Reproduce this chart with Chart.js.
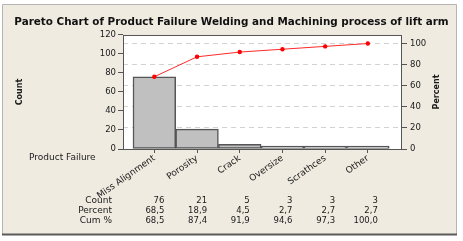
<!DOCTYPE html>
<html><head><meta charset="utf-8">
<script src="https://cdn.jsdelivr.net/npm/chart.js@4.4.1/dist/chart.umd.min.js"></script>
<style>html,body{margin:0;padding:0;background:#fff;}#wrap{width:463px;height:241px;position:relative;}</style>
</head><body><div id="wrap"><canvas id="c" width="463" height="241"></canvas></div>
<script>
const categories = ['Miss Alignment','Porosity','Crack','Oversize','Scrathces','Other'];
const counts = [76, 21, 5, 3, 3, 3];
const percents = [68.5, 18.9, 4.5, 2.7, 2.7, 2.7];
const cumPercents = [68.5, 87.4, 91.9, 94.6, 97.3, 100.0];
const countTicks = [0, 20, 40, 60, 80, 100, 120];
const percentTicks = [0, 20, 40, 60, 80, 100];
const titleText = 'Pareto Chart of Product Failure Welding and Machining process of lift arm';

const FONT = 'DejaVu Sans';
const countMax = 120;
const total = counts.reduce((a, b) => a + b, 0);
const percentMax = countMax * 100 / total;
const fmt = v => v.toFixed(1).replace('.', ',');

const decor = {
  id: 'decor',
  beforeDraw(chart) {
    const ctx = chart.ctx, a = chart.chartArea;
    ctx.save();
    ctx.fillStyle = '#ffffff';
    ctx.fillRect(0, 0, chart.width, chart.height);
    ctx.fillStyle = '#efebe1';
    ctx.fillRect(3, 5, 453, 229);
    ctx.strokeStyle = '#b4b4b4';
    ctx.lineWidth = 1;
    ctx.beginPath();
    ctx.moveTo(2.5, 234); ctx.lineTo(2.5, 4.5); ctx.lineTo(456.5, 4.5); ctx.lineTo(456.5, 234);
    ctx.stroke();
    ctx.strokeStyle = '#5a5a5a';
    ctx.lineWidth = 2;
    ctx.beginPath(); ctx.moveTo(2, 234.5); ctx.lineTo(457, 234.5); ctx.stroke();
    ctx.fillStyle = '#ffffff';
    ctx.fillRect(a.left, a.top, a.right - a.left, a.bottom - a.top);
    ctx.restore();
  },
  afterDraw(chart) {
    const ctx = chart.ctx, a = chart.chartArea, xs = chart.scales.x;
    ctx.save();
    ctx.strokeStyle = '#555555';
    ctx.lineWidth = 1;
    ctx.strokeRect(a.left + 0.5, a.top + 0.5, a.right - a.left - 1, a.bottom - a.top);
    ctx.fillStyle = '#1a1a1a';
    // right axis title
    ctx.font = 'bold 8px "' + FONT + '"';
    ctx.textAlign = 'center';
    ctx.textBaseline = 'middle';
    ctx.translate(437, 92);
    ctx.rotate(-Math.PI / 2);
    ctx.fillText('Percent', 0, 0);
    ctx.setTransform(1, 0, 0, 1, 0, 0);
    // category label
    ctx.font = '9px "' + FONT + '"';
    ctx.textAlign = 'left';
    ctx.fillText('Product Failure', 29, 158);
    // table
    const rows = [
      ['Count', counts.map(v => String(v))],
      ['Percent', percents.map(fmt)],
      ['Cum %', cumPercents.map(fmt)]
    ];
    rows.forEach((r, ri) => {
      const y = 201 + ri * 10;
      ctx.textAlign = 'right';
      ctx.font = '9px "' + FONT + '"';
      ctx.fillText(r[0], 112, y);
      ctx.font = '8.5px "' + FONT + '"';
      r[1].forEach((t, i) => {
        ctx.fillText(t, xs.getPixelForValue(i) + 10, y);
      });
    });
    ctx.restore();
  }
};

const tickFont = {family: FONT, size: 8.5};
new Chart(document.getElementById('c'), {
  type: 'bar',
  data: {
    datasets: [
      {
        type: 'line', label: 'Cum %', yAxisID: 'y2', xAxisID: 'x', order: 0,
        data: cumPercents.map((v, i) => ({x: i, y: v})),
        borderColor: '#ff2a2a', borderWidth: 1, tension: 0,
        pointRadius: 2.2, pointBackgroundColor: '#ff0000', pointBorderWidth: 0
      },
      {
        type: 'bar', label: 'Count', yAxisID: 'y', xAxisID: 'x', order: 1,
        data: counts.map((v, i) => ({x: i, y: v})),
        backgroundColor: '#c0c0c0', borderColor: '#555555', borderWidth: 1.5,
        borderSkipped: false, barPercentage: 1, categoryPercentage: 1
      }
    ]
  },
  options: {
    responsive: false, devicePixelRatio: 1, animation: false,
    layout: {padding: 0},
    plugins: {
      legend: {display: false}, tooltip: {enabled: false},
      title: {display: true, text: titleText, color: '#111',
        font: {family: FONT, size: 10.4, weight: 'bold', lineHeight: 1.2},
        padding: {top: 16, bottom: 6.5}}
    },
    scales: {
      x: {
        type: 'linear', min: -0.734, max: 5.80, offset: false,
        afterBuildTicks(s) { s.ticks = categories.map((_, i) => ({value: i})); },
        afterFit(s) { s.height = 92; },
        ticks: {autoSkip: false, minRotation: 35, maxRotation: 35, padding: 0, font: {family: FONT, size: 9}, color: '#1a1a1a',
          callback: v => categories[v]},
        grid: {drawOnChartArea: false, drawTicks: true, tickLength: 4, tickColor: '#555', offset: false},
        border: {display: false}
      },
      y: {
        position: 'left', min: 0, max: countMax,
        afterBuildTicks(s) { s.ticks = countTicks.map(v => ({value: v})); },
        afterFit(s) { s.width = 123; },
        ticks: {font: tickFont, color: '#1a1a1a', padding: 2},
        grid: {drawOnChartArea: false, tickLength: 5, tickColor: '#555'},
        border: {display: false},
        title: {display: true, text: 'Count', color: '#1a1a1a', font: {family: FONT, size: 8, weight: 'bold', lineHeight: 1.2}, padding: {top: 15, bottom: 0}}
      },
      y2: {
        position: 'right', min: 0, max: percentMax,
        afterBuildTicks(s) { s.ticks = percentTicks.map(v => ({value: v})); },
        afterFit(s) { s.width = 61; },
        ticks: {font: tickFont, color: '#1a1a1a', padding: 3},
        grid: {drawOnChartArea: true, color: '#d2d2d2', lineWidth: 1, borderDash: [5, 4], tickLength: 5, tickColor: '#555', tickBorderDash: []},
        border: {display: false, dash: [5, 4]}
      }
    }
  },
  plugins: [decor]
});
</script></body></html>
